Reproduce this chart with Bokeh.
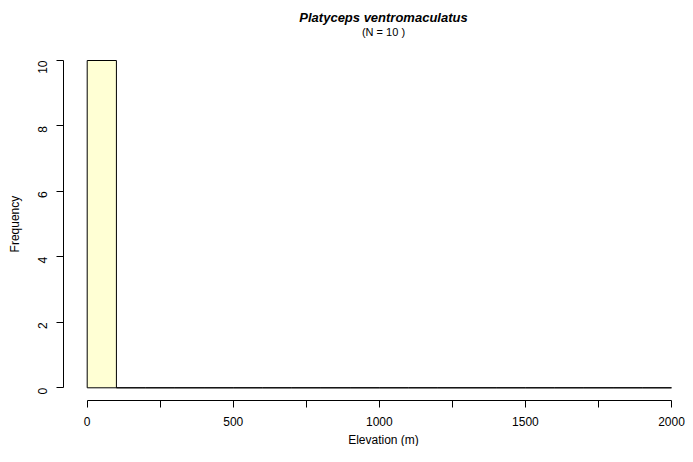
import math
from bokeh.plotting import figure
from bokeh.models import Range1d, FixedTicker, Label, ColumnDataSource
from bokeh.embed import file_html
from bokeh.resources import INLINE

# ---- Data ----
bin_left = [0, 100, 200, 300, 400, 500, 600, 700, 800, 900,
            1000, 1100, 1200, 1300, 1400, 1500, 1600, 1700, 1800, 1900]
bin_right = [100, 200, 300, 400, 500, 600, 700, 800, 900, 1000,
             1100, 1200, 1300, 1400, 1500, 1600, 1700, 1800, 1900, 2000]
counts = [10, 0, 0, 0, 0, 0, 0, 0, 0, 0,
          0, 0, 0, 0, 0, 0, 0, 0, 0, 0]
x_ticks = [0, 250, 500, 750, 1000, 1250, 1500, 1750, 2000]
x_labels = ["0", "", "500", "", "1000", "", "1500", "", "2000"]
y_ticks = [0, 2, 4, 6, 8, 10]

title_text = "Platyceps ventromaculatus"
subtitle_text = "(N = 10 )"
x_title = "Elevation (m)"
y_title = "Frequency"

# ---- Layout constants (canvas pixels) ----
FONT = "Liberation Sans"
W, H = 685, 446
PX_LO, PX_HI = 86.7, 671.0      # canvas x of x=0 and x=2000
PY_LO, PY_HI = 387.3, 60.0      # canvas y of y=0 and y=10
sx = (PX_HI - PX_LO) / 2000.0
sy = (PY_LO - PY_HI) / 10.0
x_start, x_end = -PX_LO / sx, (W - PX_LO) / sx
y_start, y_end = -(H - PY_LO) / sy, PY_LO / sy


def ydata(cy):
    return (PY_LO - cy) / sy


def xdata(cx):
    return (cx - PX_LO) / sx


p = figure(width=W, height=H,
           x_range=Range1d(x_start, x_end), y_range=Range1d(y_start, y_end),
           output_backend="svg", toolbar_location=None,
           min_border=0, min_border_left=0, min_border_right=0,
           min_border_top=0, min_border_bottom=0)
p.grid.visible = False
p.outline_line_color = None
p.background_fill_color = "white"
p.border_fill_color = "white"

src = ColumnDataSource(dict(left=bin_left, right=bin_right, top=counts,
                            bottom=[0] * len(counts)))
p.quad(left="left", right="right", top="top", bottom="bottom", source=src,
       fill_color="#FFFFD4", line_color="black", line_width=1)

# ---- Texts ----
XC = xdata(383)
p.add_layout(Label(x=XC, y=ydata(17), text=title_text, text_font=FONT,
                   text_font_size="13px", text_font_style="bold italic",
                   text_align="center", text_baseline="alphabetic",
                   text_color="black"))
p.add_layout(Label(x=XC, y=ydata(31.5), text=subtitle_text, text_font=FONT,
                   text_font_size="11px", text_align="center",
                   text_baseline="alphabetic", text_color="black"))
p.add_layout(Label(x=XC, y=ydata(439), text=x_title, text_font=FONT,
                   text_font_size="12px", text_align="center",
                   text_baseline="alphabetic", text_color="black"))
p.add_layout(Label(x=xdata(14), y=ydata(223.6), text=y_title,
                   text_font=FONT, text_font_size="12px",
                   text_align="center", text_baseline="alphabetic",
                   angle=math.pi / 2, text_color="black"))

# ---- X axis ----
xa = p.xaxis[0]
xa.fixed_location = -0.4
xa.ticker = FixedTicker(ticks=x_ticks)
xa.major_label_overrides = {float(t): l for t, l in zip(x_ticks, x_labels)}
xa.bounds = (0, 2000)
xa.minor_tick_line_color = None
xa.major_tick_in = 0
xa.major_tick_out = 7
xa.axis_line_color = "black"
xa.major_tick_line_color = "black"
xa.major_label_text_font = FONT
xa.major_label_text_font_size = "12px"
xa.major_label_text_color = "black"
xa.major_label_standoff = 9

# ---- Y axis ----
ya = p.yaxis[0]
ya.fixed_location = -80
ya.ticker = FixedTicker(ticks=y_ticks)
ya.bounds = (0, 10)
ya.minor_tick_line_color = None
ya.major_tick_in = 0
ya.major_tick_out = 7
ya.axis_line_color = "black"
ya.major_tick_line_color = "black"
ya.major_label_orientation = math.pi / 2
ya.major_label_text_font = FONT
ya.major_label_text_font_size = "12px"
ya.major_label_text_color = "black"
ya.major_label_standoff = 14

open("out.html", "w").write(file_html(p, INLINE))
